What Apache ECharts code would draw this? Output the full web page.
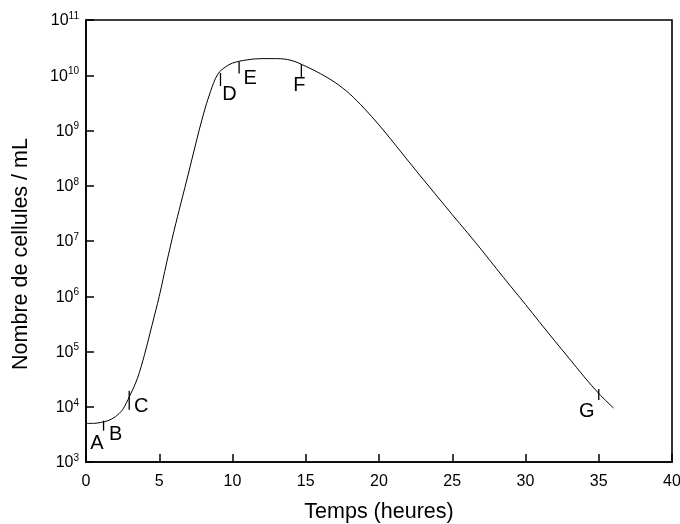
<!DOCTYPE html>
<html>
<head>
<meta charset="utf-8">
<script src="https://cdn.jsdelivr.net/npm/echarts@6/dist/echarts.min.js"></script>
<style>
html,body{margin:0;padding:0;background:#fff;}
#chart{width:680px;height:524px;}
</style>
</head>
<body>
<div id="chart"></div>
<script>
// Growth curve: time (hours) and cells / mL
const times = [0, 0.5, 1, 1.5, 2, 2.5, 3, 3.5, 4, 4.5, 5, 5.5, 6, 6.5, 7, 7.5, 8, 8.5, 9, 9.5, 10, 11, 12, 13, 14, 15, 16, 17, 18, 19, 20, 21, 22, 23, 24, 25, 26, 27, 28, 29, 30, 31, 32, 33, 34, 35, 36];
const cells = [5.0e3, 5.0e3, 5.2e3, 5.6e3, 6.6e3, 8.9e3, 1.6e4, 3.2e4, 8.9e4, 2.95e5, 1.0e6, 4.0e6, 1.5e7, 5.1e7, 1.7e8, 5.9e8, 1.9e9, 5.1e9, 1.05e10, 1.4e10, 1.66e10, 1.9e10, 2.0e10, 2.0e10, 1.86e10, 1.45e10, 1.07e10, 7.4e9, 4.6e9, 2.5e9, 1.26e9, 6.0e8, 2.8e8, 1.32e8, 6.3e7, 3.0e7, 1.45e7, 6.9e6, 3.2e6, 1.5e6, 7.1e5, 3.3e5, 1.55e5, 7.4e4, 3.5e4, 1.74e4, 9.5e3];

// Phase markers
const markerNames = ['A', 'B', 'C', 'D', 'E', 'F', 'G'];
const markerTimes = [0, 1.2, 2.95, 9.18, 10.45, 14.7, 35.0];
const markerCells = [5.0e3, 5.6e3, 1.95e4, 1.1e10, 1.78e10, 1.58e10, 2.1e4];

// Axis ticks
const xTicks = [0, 5, 10, 15, 20, 25, 30, 35, 40];
const yMin = 1e3, yMax = 1e11;

// Styles (not data)
const markTickLen = [0, 10, 19, 13, 12, 13, 11];
const markLabelOffset = [[11, 20], [12, 14], [12, 16], [9, 22], [11, 17], [-2, 21], [-12, 23]];

const FONT = '"Liberation Sans", Arial, Helvetica, sans-serif';

const chart = echarts.init(document.getElementById('chart'), null, {renderer: 'canvas'});

const tickSeriesData = markerNames.map((n, i) => ({
  value: [markerTimes[i], markerCells[i]],
  symbolSize: [1.3, Math.max(markTickLen[i], 0.01)],
  symbolOffset: [0, markTickLen[i] / 2]
}));
const labelSeriesData = markerNames.map((n, i) => ({
  name: n,
  value: [markerTimes[i], markerCells[i]],
  label: { offset: markLabelOffset[i] }
}));

chart.setOption({
  animation: false,
  backgroundColor: '#fff',
  textStyle: { fontFamily: FONT, color: '#000' },
  grid: {
    left: 86, right: 8, top: 20, bottom: 62,
    outerBoundsMode: 'none', containLabel: false,
    show: true, borderColor: '#000', borderWidth: 1.6, backgroundColor: 'transparent'
  },
  xAxis: {
    type: 'value',
    min: xTicks[0], max: xTicks[xTicks.length - 1], interval: xTicks[1] - xTicks[0],
    name: 'Temps (heures)', nameLocation: 'middle', nameGap: 39, nameMoveOverlap: false,
    nameTextStyle: { fontSize: 21.5, color: '#000', fontFamily: FONT },
    axisLine: { show: true, onZero: false, lineStyle: { color: '#000', width: 1.6 } },
    axisTick: { show: true, inside: true, length: 8, lineStyle: { color: '#000', width: 1.5 } },
    axisLabel: { fontSize: 16, color: '#000', margin: 12, fontFamily: FONT },
    splitLine: { show: false }
  },
  yAxis: {
    type: 'log', logBase: 10,
    min: yMin, max: yMax, interval: 1,
    name: 'Nombre de cellules / mL', nameLocation: 'middle', nameGap: 54, nameRotate: 90, nameMoveOverlap: false,
    nameTextStyle: { fontSize: 21.5, color: '#000', fontFamily: FONT, padding: [0, 26, 0, 0] },
    axisLine: { show: true, onZero: false, lineStyle: { color: '#000', width: 1.6 } },
    axisTick: { show: true, inside: true, length: 8, lineStyle: { color: '#000', width: 1.5 } },
    minorTick: { show: false },
    axisLabel: {
      margin: 7,
      formatter: function (v) {
        const e = Math.round(Math.log10(v));
        return '{a|10}{b|' + e + '}';
      },
      rich: {
        a: { fontSize: 16, color: '#000', fontFamily: FONT, lineHeight: 18, verticalAlign: 'bottom' },
        b: { fontSize: 10, color: '#000', fontFamily: FONT, lineHeight: 18, verticalAlign: 'top', padding: [0, 0, 6, 0] }
      }
    },
    splitLine: { show: false }
  },
  series: [
    {
      type: 'line',
      data: times.map((t, i) => [t, cells[i]]),
      showSymbol: false, symbol: 'none',
      smooth: 0.35,
      lineStyle: { color: '#000', width: 1 },
      z: 3
    },
    {
      type: 'scatter',
      data: tickSeriesData,
      symbol: 'rect',
      itemStyle: { color: '#000', opacity: 1 },
      silent: true,
      z: 4
    },
    {
      type: 'scatter',
      data: labelSeriesData,
      symbol: 'circle', symbolSize: 0,
      itemStyle: { color: '#000', opacity: 1 },
      label: {
        show: true, position: 'inside', formatter: '{b}',
        fontSize: 20, color: '#000', fontFamily: FONT,
        textBorderWidth: 0
      },
      silent: true,
      z: 5
    }
  ]
});
</script>
</body>
</html>
